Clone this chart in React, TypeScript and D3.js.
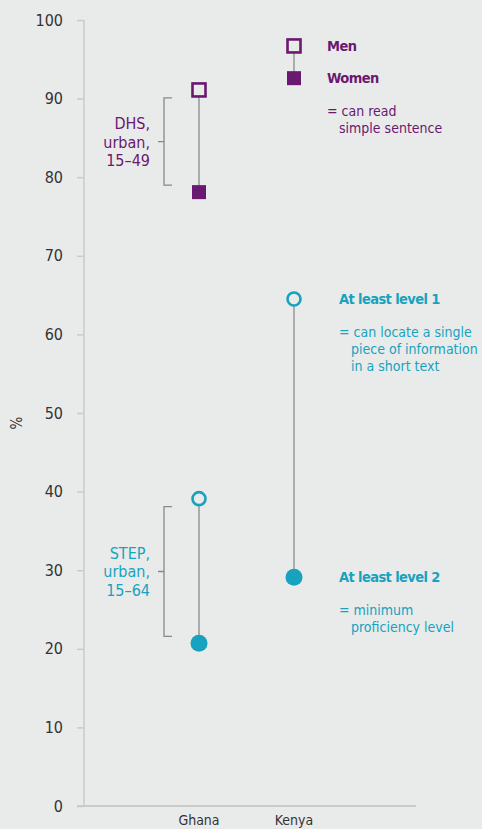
import React, { useEffect, useRef } from 'react';
import * as d3 from 'd3';

const countries = ['Ghana', 'Kenya'];
const yTicks = [0, 10, 20, 30, 40, 50, 60, 70, 80, 90, 100];

// DHS: can read simple sentence (Ghana only, urban 15-49)
const dhsMen = [91.1];
const dhsWomen = [78.1];
// STEP: urban 15-64
const stepLevel1 = [39.1, 64.5];
const stepLevel2 = [20.7, 29.1];
// legend markers drawn in Kenya column
const legendDhs = [96.7, 92.6];

const PURPLE = '#6a1870';
const TEAL = '#17a2c0';
const FONT = '"DejaVu Sans Condensed", "Liberation Sans Narrow", sans-serif';

const App: React.FC = () => {
  const svgRef = useRef<SVGSVGElement | null>(null);
  const width = 482;
  const height = 829;
  const margin = { top: 20, right: 66, bottom: 23, left: 84 };

  useEffect(() => {
    const svg = d3.select(svgRef.current);
    svg.selectAll('*').remove();

    svg.append('rect').attr('width', width).attr('height', height).attr('fill', '#e9ebea');

    const y = d3.scaleLinear().domain([0, 100]).range([height - margin.bottom, margin.top]);
    const x = d3.scalePoint().domain(countries).range([199, 294]);

    // y axis
    const yAxis = svg
      .append('g')
      .attr('transform', `translate(${margin.left},0)`)
      .call(d3.axisLeft(y).tickValues(yTicks).tickSize(7).tickPadding(14));
    yAxis.select('.domain').attr('stroke', '#c9cbca').attr('stroke-width', 1.5).attr('d', `M0,${y(100)}V${y(0)}`);
    yAxis.selectAll('.tick line').attr('stroke', '#c9cbca').attr('stroke-width', 1.5);
    yAxis
      .selectAll('.tick text')
      .attr('fill', '#333')
      .style('font-family', FONT)
      .style('font-size', '16px');

    // baseline
    svg
      .append('line')
      .attr('x1', margin.left - 7)
      .attr('x2', width - margin.right)
      .attr('y1', y(0))
      .attr('y2', y(0))
      .attr('stroke', '#c9cbca')
      .attr('stroke-width', 2);

    // x labels
    svg
      .selectAll('.xlab')
      .data(countries)
      .join('text')
      .attr('x', (d) => x(d)!)
      .attr('y', y(0) + 19)
      .attr('text-anchor', 'middle')
      .attr('fill', '#333')
      .style('font-family', FONT)
      .style('font-size', '14px')
      .text((d) => d);

    // y title
    svg
      .append('text')
      .attr('transform', `translate(22,${(y(0) + y(100)) / 2 + 10}) rotate(-90)`)
      .attr('text-anchor', 'middle')
      .attr('fill', '#333')
      .style('font-family', FONT)
      .style('font-size', '15px')
      .text('%');

    const gx = x('Ghana')!;
    const kx = x('Kenya')!;

    // brackets
    const bracket = (top: number, bottom: number) => {
      const bx = gx - 35;
      const yt = y(top) + 8;
      const yb = y(bottom) - 7;
      const ym = (yt + yb) / 2;
      svg
        .append('path')
        .attr('d', `M${bx + 8},${yt}H${bx}V${yb}H${bx + 8}M${bx},${ym}H${bx - 6}`)
        .attr('fill', 'none')
        .attr('stroke', '#888')
        .attr('stroke-width', 1.3);
      return ym;
    };
    const bracketLabel = (ym: number, lines: string[], color: string) => {
      const t = svg
        .append('text')
        .attr('text-anchor', 'end')
        .attr('fill', color)
        .style('font-family', FONT)
        .style('font-size', '16px');
      lines.forEach((l, i) => {
        t.append('tspan')
          .attr('x', gx - 49)
          .attr('y', ym + (i - 1) * 18.5 + 6)
          .text(l);
      });
    };
    bracketLabel(bracket(dhsMen[0], dhsWomen[0]), ['DHS,', 'urban,', '15–49'], PURPLE);
    bracketLabel(bracket(stepLevel1[0], stepLevel2[0]), ['STEP,', 'urban,', '15–64'], TEAL);

    // connectors
    const connect = (cx: number, a: number, b: number) =>
      svg
        .append('line')
        .attr('x1', cx)
        .attr('x2', cx)
        .attr('y1', y(a))
        .attr('y2', y(b))
        .attr('stroke', '#8a8a8a')
        .attr('stroke-width', 1.3);
    connect(gx, dhsMen[0], dhsWomen[0]);
    connect(kx, legendDhs[0], legendDhs[1]);
    stepLevel1.forEach((v, i) => connect(x(countries[i])!, v, stepLevel2[i]));

    // squares
    const openSq = (cx: number, v: number) =>
      svg
        .append('rect')
        .attr('x', cx - 6.5)
        .attr('y', y(v) - 6.5)
        .attr('width', 13)
        .attr('height', 13)
        .attr('fill', '#e9ebea')
        .attr('stroke', PURPLE)
        .attr('stroke-width', 2.6);
    const fillSq = (cx: number, v: number) =>
      svg
        .append('rect')
        .attr('x', cx - 7)
        .attr('y', y(v) - 7)
        .attr('width', 14)
        .attr('height', 14)
        .attr('fill', PURPLE);
    openSq(gx, dhsMen[0]);
    fillSq(gx, dhsWomen[0]);
    openSq(kx, legendDhs[0]);
    fillSq(kx, legendDhs[1]);

    // circles
    svg
      .selectAll('.c1')
      .data(stepLevel1)
      .join('circle')
      .attr('cx', (_, i) => x(countries[i])!)
      .attr('cy', (d) => y(d))
      .attr('r', 6.5)
      .attr('fill', '#e9ebea')
      .attr('stroke', TEAL)
      .attr('stroke-width', 2.6);
    svg
      .selectAll('.c2')
      .data(stepLevel2)
      .join('circle')
      .attr('cx', (_, i) => x(countries[i])!)
      .attr('cy', (d) => y(d))
      .attr('r', 8.5)
      .attr('fill', TEAL);

    // annotations
    const note = (v: number, head: string, lines: string[], color: string, tx: number) => {
      const base = y(v) + 5;
      svg
        .append('text')
        .attr('x', tx)
        .attr('y', base)
        .attr('fill', color)
        .style('font-family', FONT)
        .style('font-size', '14.5px')
        .style('letter-spacing', '-0.6px')
        .style('font-weight', 'bold')
        .text(head);
      lines.forEach((l, i) => {
        svg
          .append('text')
          .attr('x', i === 0 ? tx : tx + 12)
          .attr('y', base + 33 + i * 17)
          .attr('fill', color)
          .style('font-family', FONT)
          .style('font-size', '14px')
          .text(i === 0 ? `= ${l}` : l);
      });
    };
    note(legendDhs[0], 'Men', [], PURPLE, kx + 33);
    note(legendDhs[1], 'Women', ['can read', 'simple sentence'], PURPLE, kx + 33);
    note(stepLevel1[1], 'At least level 1', ['can locate a single', 'piece of information', 'in a short text'], TEAL, kx + 45);
    note(stepLevel2[1], 'At least level 2', ['minimum', 'proficiency level'], TEAL, kx + 45);
  });

  return (
    <div style={{ position: 'absolute', left: 0, top: 0 }}>
      <svg ref={svgRef} width={width} height={height} style={{ display: 'block' }}></svg>
    </div>
  );
};

export default App;
